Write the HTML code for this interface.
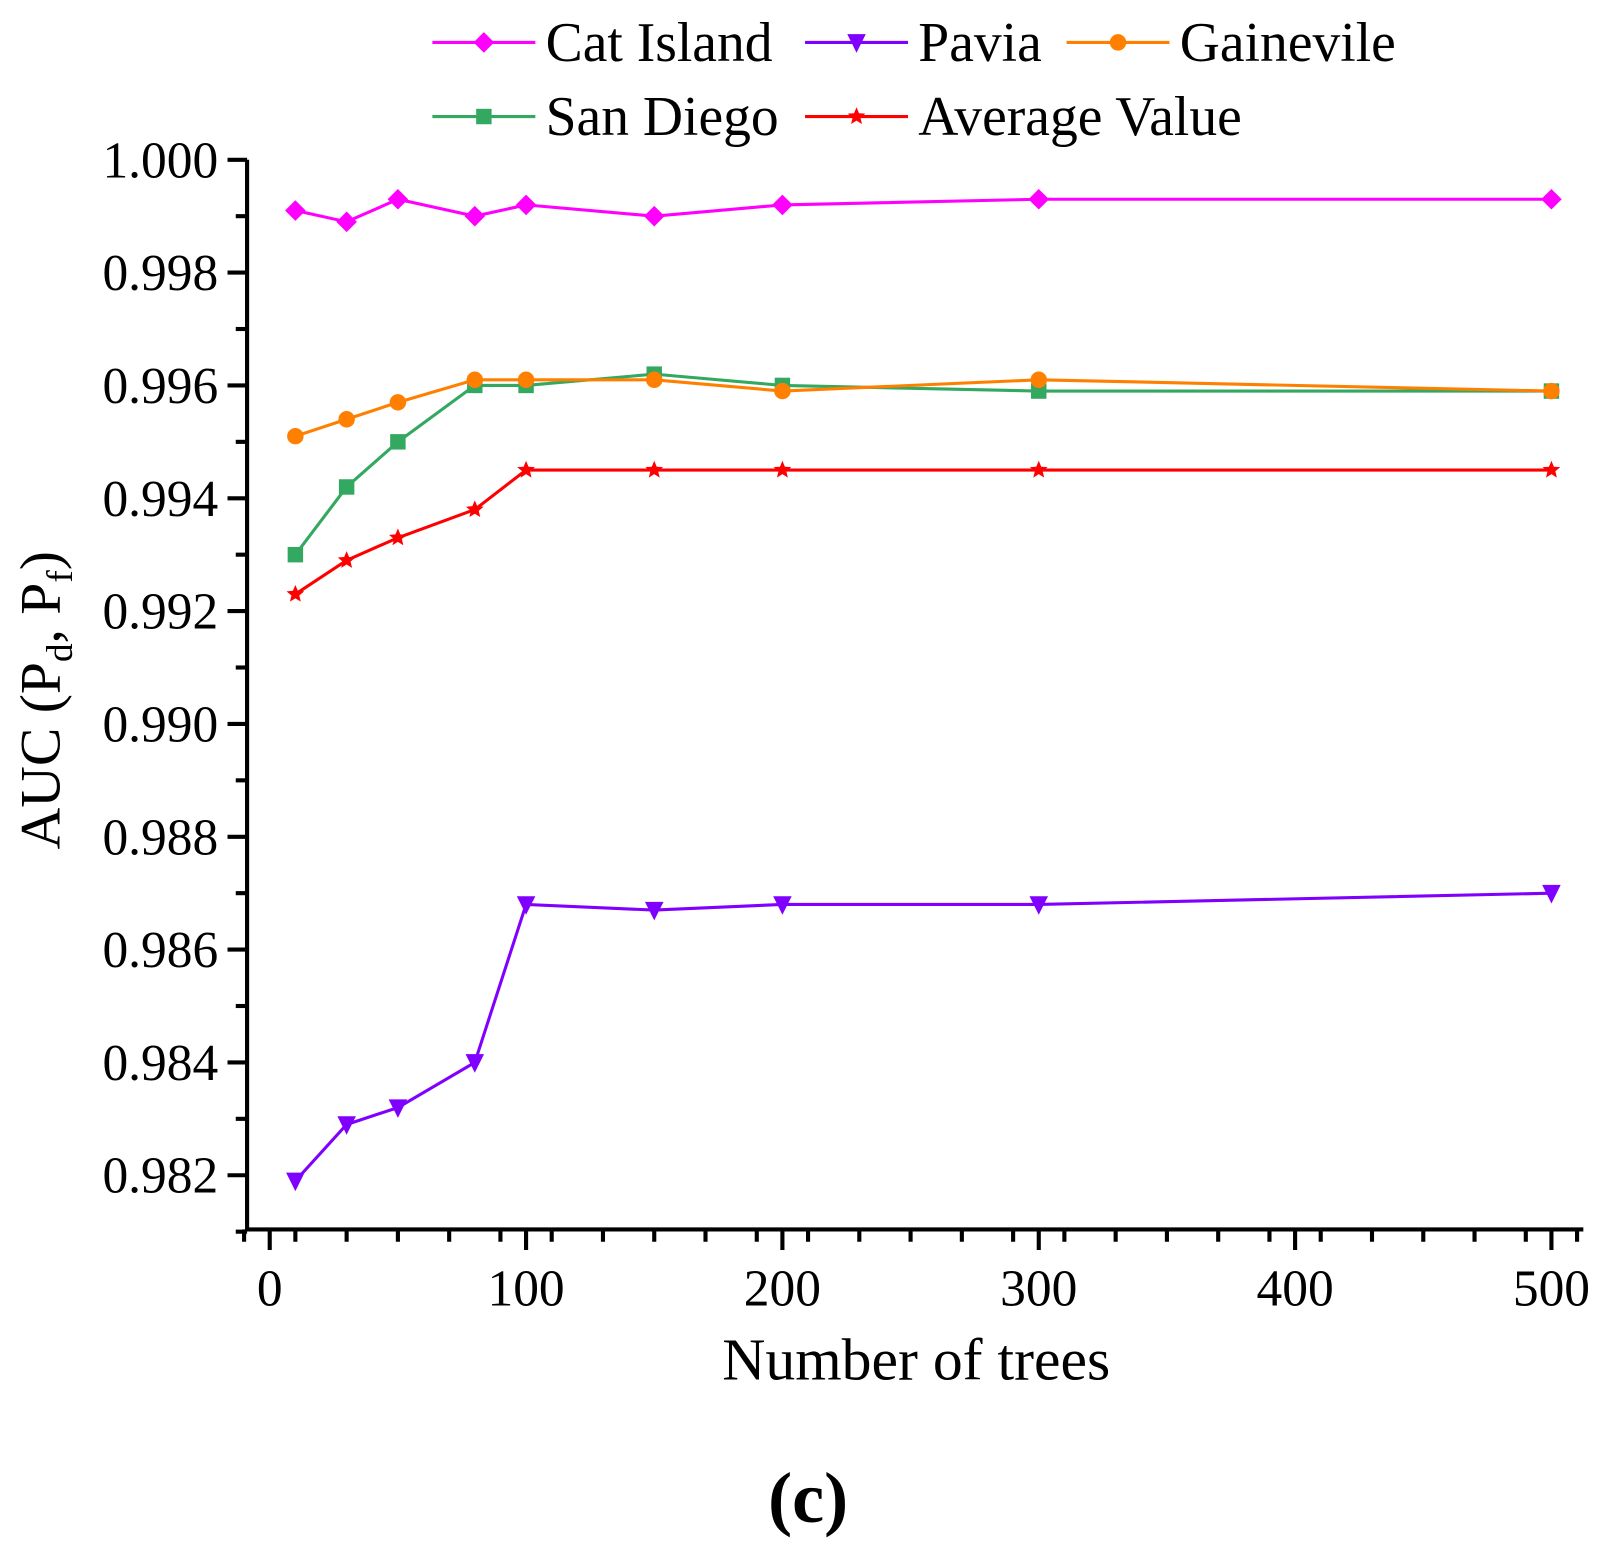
<!DOCTYPE html>
<html><head><meta charset="utf-8"><style>html,body{margin:0;padding:0;background:#fff}</style></head>
<body>
<svg id="s" width="1606" height="1558" viewBox="0 0 1560 1513" xmlns="http://www.w3.org/2000/svg" font-family="Liberation Serif, serif">
<rect width="1560" height="1513" fill="#fff"/>
<g id="g"></g>
<text x="890" y="1340" font-size="58" text-anchor="middle">Number of trees</text>
<text transform="translate(58,680) rotate(-90)" font-size="56" text-anchor="middle">AUC (P<tspan font-size="36" dy="12">d</tspan><tspan dy="-12">, P</tspan><tspan font-size="36" dy="12">f</tspan><tspan dy="-12">)</tspan></text>
<text x="785" y="1478" font-size="70" font-weight="bold" text-anchor="middle">(c)</text>
</svg>
<script>
const g=document.getElementById('g');let h='';
const X=v=>262+v*2.49, Y=v=>155+(1-v)*54800;
const B=1194, R=1538;
h+=`<path d="M240,155V${B}H${R}" fill="none" stroke="#000" stroke-width="4"/>`;
for(let i=0;i<=19;i++){const y=155+i*54.8;const maj=i%2==0;h+=`<line x1="${maj?221:229}" x2="240" y1="${y}" y2="${y}" stroke="#000" stroke-width="4"/>`;
 if(maj&&i<=18){const v=(1-i/2*0.002).toFixed(3);h+=`<text x="212" y="${y+17}" font-size="50" text-anchor="end">${v}</text>`;}}
for(let v=-10;v<=510;v+=20){const x=X(v);h+=`<line x1="${x}" x2="${x}" y1="${B}" y2="${B+12}" stroke="#000" stroke-width="4"/>`;}
for(let v=0;v<=500;v+=100){const x=X(v);h+=`<line x1="${x}" x2="${x}" y1="${B}" y2="${B+20}" stroke="#000" stroke-width="4"/>`;
 h+=`<text x="${x}" y="${B+74}" font-size="50" text-anchor="middle">${v}</text>`;}
const xs=[10,30,50,80,100,150,200,300,500];
const S=[
['#ff00ff','d',[0.9991,0.9989,0.9993,0.9990,0.9992,0.9990,0.9992,0.9993,0.9993]],
['#8000ff','v',[0.9819,0.9829,0.9832,0.9840,0.9868,0.9867,0.9868,0.9868,0.9870]],
['#ff8000','o',[0.9951,0.9954,0.9957,0.9961,0.9961,0.9961,0.9959,0.9961,0.9959]],
['#33a860','s',[0.9930,0.9942,0.9950,0.9960,0.9960,0.9962,0.9960,0.9959,0.9959]],
['#ff0000','*',[0.9923,0.9929,0.9933,0.9938,0.9945,0.9945,0.9945,0.9945,0.9945]]];
function mk(t,x,y,c){
 if(t=='d')return `<path d="M${x},${y-10}L${x+10},${y}L${x},${y+10}L${x-10},${y}Z" fill="${c}"/>`;
 if(t=='v')return `<path d="M${x-9},${y-8}H${x+9}L${x},${y+10}Z" fill="${c}"/>`;
 if(t=='o')return `<circle cx="${x}" cy="${y}" r="8" fill="${c}"/>`;
 if(t=='s')return `<rect x="${x-7.5}" y="${y-7.5}" width="15" height="15" fill="${c}"/>`;
 let p='';for(let i=0;i<10;i++){const r=i%2?4:9,a=-Math.PI/2+i*Math.PI/5;p+=(i?'L':'M')+(x+r*Math.cos(a)).toFixed(1)+','+(y+r*Math.sin(a)).toFixed(1);}return `<path d="${p}Z" fill="${c}"/>`;}
[0,1,3,2,4].forEach(k=>{const [c,t,d]=S[k];h+=`<polyline points="${xs.map((x,i)=>X(x)+','+Y(d[i])).join(' ')}" fill="none" stroke="${c}" stroke-width="3"/>`;xs.forEach((x,i)=>h+=mk(t,X(x),Y(d[i]),c));});
const L=[[0,420,41,'Cat Island'],[1,782,41,'Pavia'],[2,1036,41,'Gainevile'],[3,420,113,'San Diego'],[4,782,113,'Average Value']];
L.forEach(([k,x,y,n])=>{const c=S[k][0];h+=`<line x1="${x}" x2="${x+100}" y1="${y}" y2="${y}" stroke="${c}" stroke-width="3"/>`+mk(S[k][1],x+50,y,c)+`<text x="${x+110}" y="${y+18}" font-size="54">${n}</text>`;});
g.innerHTML=h;
</script>
</body></html>
